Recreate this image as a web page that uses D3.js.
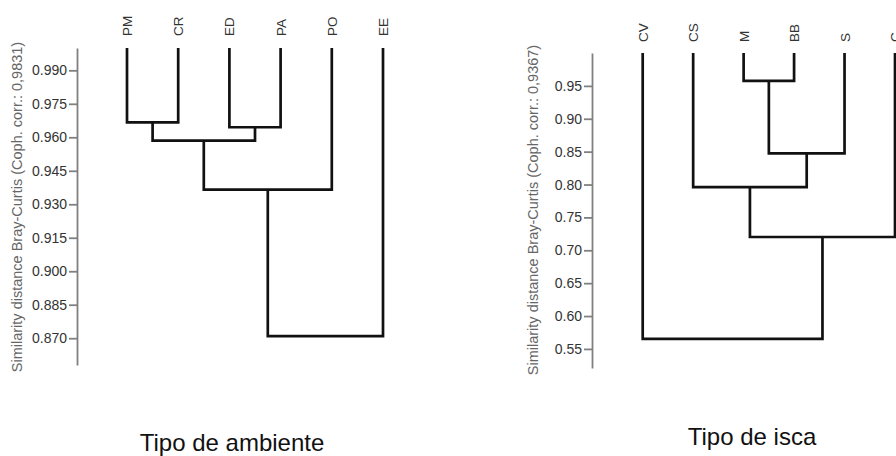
<!DOCTYPE html>
<html lang="en">
  <head>
    <meta charset="utf-8" />
    <title>Dendrogramas</title>
    <script src="https://d3js.org/d3.v7.min.js"></script>
    <style>
      body {
        margin: 0;
        background: #fff;
      }
      svg {
        font-family: "Liberation Sans", Arial, sans-serif;
      }
      .link {
        fill: none;
        stroke: #111;
        stroke-width: 2.7;
        stroke-linejoin: miter;
      }
      .axis path,
      .axis line {
        stroke: #808080;
        stroke-width: 1.8;
      }
      .axis text {
        fill: #333;
        font-size: 14px;
      }
      .leaf {
        fill: #333;
        font-size: 13.5px;
      }
      .ytitle {
        fill: #666;
        font-size: 14.5px;
        text-anchor: middle;
      }
      .title {
        fill: #111;
        font-size: 24px;
        text-anchor: middle;
      }
    </style>
  </head>
  <body>
    <div id="chart"></div>
    <script>
      let width = 896;
      let height = 456;

      // Tipo de ambiente
      let leavesA = ["PM", "CR", "ED", "PA", "PO", "EE"];
      // merges: node ids 0..5 are leaves, 6.. are the clusters below
      let mergeLeftA = [0, 2, 6, 8, 9];
      let mergeRightA = [1, 3, 7, 4, 5];
      let mergeHeightA = [0.9667, 0.9645, 0.9585, 0.9366, 0.8709];
      let ticksA = [0.87, 0.885, 0.9, 0.915, 0.93, 0.945, 0.96, 0.975, 0.99];

      // Tipo de isca
      let leavesB = ["CV", "CS", "M", "BB", "S", "C"];
      let mergeLeftB = [2, 6, 1, 8, 0];
      let mergeRightB = [3, 4, 7, 5, 9];
      let mergeHeightB = [0.9576, 0.8474, 0.796, 0.7202, 0.5652];
      let ticksB = [0.55, 0.6, 0.65, 0.7, 0.75, 0.8, 0.85, 0.9, 0.95];

      let svg = d3
        .select("#chart")
        .append("svg")
        .attr("width", width)
        .attr("height", height);

      function drawDendro(opt) {
        let g = svg.append("g");

        let x = d3
          .scalePoint()
          .domain(opt.leaves)
          .range(opt.xRange);
        let y = d3.scaleLinear().domain(opt.yDomain).range(opt.yRange);

        // node positions (leaves first, then clusters)
        let nodes = opt.leaves.map(function (d) {
          return { x: x(d), y: y(1) };
        });
        opt.left.forEach(function (l, i) {
          let a = nodes[l];
          let b = nodes[opt.right[i]];
          let my = y(opt.heights[i]);
          g.append("path")
            .attr("class", "link")
            .attr(
              "d",
              "M" + a.x + "," + a.y + " V" + my + " H" + b.x + " V" + b.y
            );
          nodes.push({ x: (a.x + b.x) / 2, y: my });
        });

        // leaf labels
        g.append("g")
          .selectAll("text")
          .data(opt.leaves)
          .enter()
          .append("text")
          .attr("class", "leaf")
          .attr("transform", function (d) {
            return "translate(" + (x(d) + 5) + "," + opt.labelY + ") rotate(-90)";
          })
          .text(function (d) {
            return d;
          });

        // axis
        let axis = d3
          .axisLeft(y)
          .tickValues(opt.ticks)
          .tickFormat(d3.format(opt.fmt))
          .tickSize(8)
          .tickPadding(2)
          .tickSizeOuter(0);
        g.append("g")
          .attr("class", "axis")
          .attr("transform", "translate(" + opt.axisX + ",0)")
          .call(axis);

        g.append("text")
          .attr("class", "ytitle")
          .attr(
            "transform",
            "translate(" + opt.titleX + "," + opt.titleY + ") rotate(-90)"
          )
          .text(opt.yTitle);

        g.append("text")
          .attr("class", "title")
          .attr("x", opt.capX)
          .attr("y", opt.capY)
          .text(opt.caption);
      }

      drawDendro({
        leaves: leavesA,
        left: mergeLeftA,
        right: mergeRightA,
        heights: mergeHeightA,
        ticks: ticksA,
        fmt: ".3f",
        xRange: [127, 383],
        yDomain: [0.858, 1],
        yRange: [365, 48],
        axisX: 77,
        labelY: 36,
        titleX: 22,
        titleY: 207,
        yTitle: "Similarity distance Bray-Curtis (Coph. corr.: 0,9831)",
        capX: 232,
        capY: 451,
        caption: "Tipo de ambiente",
      });

      drawDendro({
        leaves: leavesB,
        left: mergeLeftB,
        right: mergeRightB,
        heights: mergeHeightB,
        ticks: ticksB,
        fmt: ".2f",
        xRange: [642.7, 895],
        yDomain: [0.521, 1],
        yRange: [368, 53],
        axisX: 592,
        labelY: 42,
        titleX: 538,
        titleY: 210,
        yTitle: "Similarity distance Bray-Curtis (Coph. corr.: 0,9367)",
        capX: 752,
        capY: 445,
        caption: "Tipo de isca",
      });
    </script>
  </body>
</html>
